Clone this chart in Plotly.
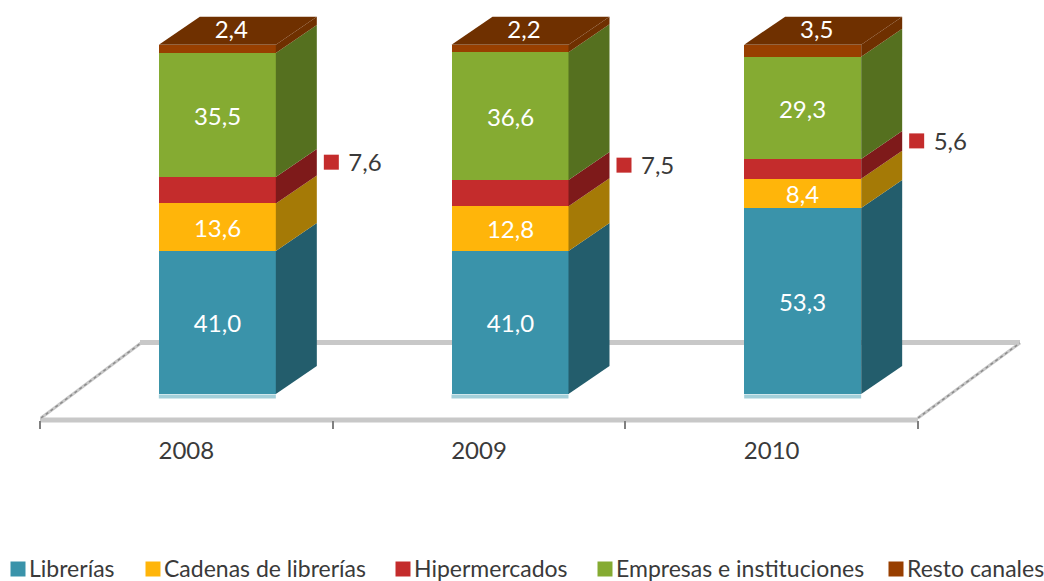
import plotly.graph_objects as go

years = ["2008", "2009", "2010"]
series_names = ["Librerías", "Cadenas de librerías", "Hipermercados", "Empresas e instituciones", "Resto canales"]
librerias = [41.0, 41.0, 53.3]
cadenas = [13.6, 12.8, 8.4]
hipermercados = [7.6, 7.5, 5.6]
empresas = [35.5, 36.6, 29.3]
resto = [2.4, 2.2, 3.5]
front_colors = ["#3a93aa", "#ffb50a", "#c42c2c", "#85ab32", "#983f00"]
side_colors = ["#235d6c", "#a57a06", "#7e1a1a", "#55701f", "#6f3000"]
legend_px = [18, 153, 403, 605, 896]

W, H = 1044, 581
FONT = "Lato"
TXT = "#3a3a3a"
AX_L, AX_R = 40, 918
PX_X = (AX_R - AX_L) / 3
BASE_PY, PX_Y = 394, 3.49
px2x = lambda p: (p - AX_L) / PX_X - 0.5
py2y = lambda p: (BASE_PY - p) / PX_Y

OFFSET = 31 / PX_X
BAR_W = 117 / PX_X
DX, DY = 41 / PX_X, 28 / PX_Y
fmt = lambda v: f"{v:.1f}".replace(".", ",")

cats = [0, 1, 2]
centers = [c + OFFSET for c in cats]
all_series = [librerias, cadenas, hipermercados, empresas, resto]
fig = go.Figure()

# 3D side and top faces
bases = [0, 0, 0]
for vals, side in zip(all_series, side_colors):
    for i, c in enumerate(centers):
        r = c + BAR_W / 2
        a, b = bases[i], bases[i] + vals[i]
        fig.add_trace(go.Scatter(x=[r, r + DX, r + DX, r, r], y=[a, a + DY, b + DY, b, a], mode="lines",
                                 fill="toself", fillcolor=side, line=dict(width=0), hoverinfo="skip", showlegend=False))
    bases = [bases[i] + vals[i] for i in range(3)]
for i, c in enumerate(centers):
    l, r, t = c - BAR_W / 2, c + BAR_W / 2, bases[i]
    fig.add_trace(go.Scatter(x=[l, r, r + DX, l + DX, l], y=[t, t, t + DY, t + DY, t], mode="lines",
                             fill="toself", fillcolor=side_colors[4], line=dict(width=0), hoverinfo="skip", showlegend=False))

# Front faces
for k, (name, vals, col) in enumerate(zip(series_names, all_series, front_colors)):
    show_text = [fmt(v) if k in (0, 1, 3) else "" for v in vals]
    fig.add_trace(go.Bar(x=centers, y=vals, width=BAR_W, name=name, marker=dict(color=col, line=dict(width=0)),
                         text=show_text, textposition="inside", insidetextanchor="middle", textangle=0,
                         constraintext="none", cliponaxis=False,
                         insidetextfont=dict(color="white", size=24, family=FONT), showlegend=False))

# Base highlight
for c in centers:
    fig.add_trace(go.Scatter(x=[c - BAR_W / 2, c + BAR_W / 2], y=[-0.7, -0.7], mode="lines",
                             line=dict(color="#a3cfd9", width=4), hoverinfo="skip", showlegend=False))

# Top labels
fig.add_trace(go.Scatter(x=[c + 14 / PX_X for c in centers], y=[103.6] * 3, mode="text", text=[fmt(v) for v in resto],
                         textfont=dict(color="white", size=24, family=FONT), hoverinfo="skip", showlegend=False, cliponaxis=False))

# Outside labels for hipermercados
hip_x = [c + BAR_W / 2 + DX + 14.5 / PX_X for c in centers]
hip_y = [librerias[i] + cadenas[i] + hipermercados[i] / 2 + DY for i in range(3)]
fig.add_trace(go.Scatter(x=hip_x, y=hip_y, mode="markers",
                         marker=dict(symbol="square", size=15, color=front_colors[2]),
                         hoverinfo="skip", showlegend=False, cliponaxis=False))
fig.add_trace(go.Scatter(x=[x + 17 / PX_X for x in hip_x], y=[y - 0.9 for y in hip_y], mode="text",
                         text=[fmt(v) for v in hipermercados], textposition="middle right",
                         textfont=dict(color=TXT, size=24, family=FONT), hoverinfo="skip", showlegend=False, cliponaxis=False))

# Legend
for p, name, col in zip(legend_px, series_names, front_colors):
    fig.add_trace(go.Scatter(x=[px2x(p)], y=[py2y(569)], mode="markers",
                             marker=dict(symbol="square", size=15, color=col),
                             hoverinfo="skip", showlegend=False, cliponaxis=False))
    fig.add_trace(go.Scatter(x=[px2x(p + 11)], y=[py2y(571)], mode="text", text=[name], textposition="middle right",
                             textfont=dict(color=TXT, size=23, family=FONT), hoverinfo="skip", showlegend=False, cliponaxis=False))

floor = "#c8c8c8"
def pline(x0, y0, x1, y1, **kw):
    return dict(type="line", xref="paper", yref="paper", x0=x0 / W, x1=x1 / W, y0=1 - y0 / H, y1=1 - y1 / H,
                layer="below", line=kw)

fig.update_layout(
    width=W, height=H, autosize=False, barmode="stack", bargap=0,
    margin=dict(l=0, r=0, t=0, b=0), paper_bgcolor="white", plot_bgcolor="white", showlegend=False,
    font=dict(family=FONT, color=TXT),
    xaxis=dict(domain=[0, 1], range=[px2x(0), px2x(W)], tickmode="array", tickvals=cats, ticktext=years,
               ticks="", showgrid=False, zeroline=False, showline=False,
               anchor="free", position=1 - 420 / H, tickfont=dict(size=24, color=TXT, family=FONT), ticklabelstandoff=14,
               minor=dict(tickmode="array", tickvals=[-0.5, 0.5, 1.5, 2.5], ticks="outside", ticklen=8, tickwidth=1.5,
                          tickcolor="#808080", showgrid=False)),
    yaxis=dict(domain=[0, 1], range=[py2y(H), py2y(0)], visible=False, showgrid=False, zeroline=False),
    shapes=[
        pline(AX_L, 420, AX_R, 420, color=floor, width=5),
        pline(140, 342.5, 1020, 342.5, color=floor, width=5),
        pline(41, 418, 141, 343, color=floor, width=3),
        pline(41, 418, 141, 343, color="#8c8c8c", width=1.5, dash="dot"),
        pline(918, 418, 1020, 343, color=floor, width=3),
        pline(918, 418, 1020, 343, color="#8c8c8c", width=1.5, dash="dot"),
    ],
)
fig.write_html("out.html", config=dict(displayModeBar=False),
               post_script="document.body.style.margin='0';document.documentElement.style.overflow='hidden';")
